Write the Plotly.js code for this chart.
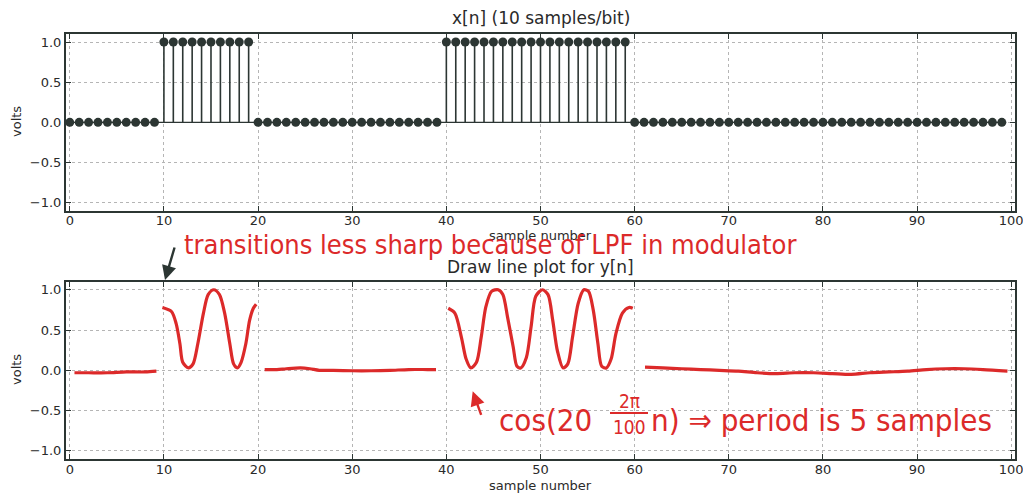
<!DOCTYPE html>
<html><head><meta charset="utf-8">
<script src="https://cdn.plot.ly/plotly-3.0.1.min.js"></script>
<style>html,body{margin:0;padding:0;background:#fff}#plot{width:1023px;height:493px}</style>
</head><body><div id="plot"></div>
<script>
// x[n]: 10 samples per bit, 100 samples
const sampleN = [0,1,2,3,4,5,6,7,8,9,10,11,12,13,14,15,16,17,18,19,20,21,22,23,24,25,26,27,28,29,30,31,32,33,34,35,36,37,38,39,40,41,42,43,44,45,46,47,48,49,50,51,52,53,54,55,56,57,58,59,60,61,62,63,64,65,66,67,68,69,70,71,72,73,74,75,76,77,78,79,80,81,82,83,84,85,86,87,88,89,90,91,92,93,94,95,96,97,98,99];
const xValues = [0,0,0,0,0,0,0,0,0,0, 1,1,1,1,1,1,1,1,1,1, 0,0,0,0,0,0,0,0,0,0, 0,0,0,0,0,0,0,0,0,0, 1,1,1,1,1,1,1,1,1,1, 1,1,1,1,1,1,1,1,1,1, 0,0,0,0,0,0,0,0,0,0, 0,0,0,0,0,0,0,0,0,0, 0,0,0,0,0,0,0,0,0,0, 0,0,0,0,0,0,0,0,0,0];

// hand-drawn y[n], segments separated by null
const yN = [0.5,2,4,6,8,9.2,null,
  9.84,10.8,11.3,11.7,12.0,12.6,13.1,13.6,14.2,14.7,15.3,15.9,16.45,17.0,17.4,17.8,18.2,18.7,19.1,19.5,19.8,null,
  20.7,22,23,24.5,25.5,26.5,28,30,32,34,36,38,38.9,null,
  40.2,40.9,41.6,42.1,42.6,43.2,43.7,44.2,44.8,45.5,46.0,46.5,47.1,47.5,47.9,48.5,49.0,49.5,50.2,50.8,51.3,51.8,52.4,52.9,53.4,54.0,54.6,55.1,55.6,56.1,56.5,57.0,57.5,58.0,58.7,59.4,59.8,null,
  61.1,63,65,67,69,71,73,75,77,79,81,83,85,87,89,91,93,95,97,99.6];
const yValues = [-0.03,-0.03,-0.03,-0.02,-0.02,-0.01,null,
  0.78,0.73,0.58,0.33,0.10,0.03,0.08,0.33,0.71,0.94,1.0,0.94,0.71,0.33,0.08,0.03,0.10,0.33,0.62,0.77,0.82,null,
  0.01,0.01,0.02,0.03,0.02,0.0,0.0,-0.005,-0.005,0.0,0.01,0.01,0.01,null,
  0.77,0.71,0.41,0.14,0.03,0.10,0.41,0.79,0.98,1.0,0.94,0.66,0.29,0.05,0.03,0.16,0.54,0.92,1.0,0.94,0.62,0.24,0.03,0.08,0.41,0.83,1.0,0.98,0.75,0.33,0.05,0.03,0.14,0.45,0.71,0.78,0.77,null,
  0.04,0.03,0.02,0.01,0.0,-0.01,-0.03,-0.04,-0.03,-0.03,-0.04,-0.05,-0.03,-0.02,-0.01,0.01,0.02,0.02,0.01,-0.01];

const yTickVals = [-1.0,-0.5,0.0,0.5,1.0];
const xTickVals = [0,10,20,30,40,50,60,70,80,90,100];

const dark = '#2c3633';
const red = '#dc2a2a';

// stems built from data
const stemX = [], stemY = [];
sampleN.forEach((n,i)=>{ stemX.push(n,n,null); stemY.push(0,xValues[i],null); });

const traces = [
  {x:[sampleN[0], sampleN[sampleN.length-1]], y:[0,0], mode:'lines', line:{color:dark,width:1.2}, xaxis:'x', yaxis:'y', hoverinfo:'skip'},
  {x:stemX, y:stemY, mode:'lines', line:{color:dark,width:1.6}, xaxis:'x', yaxis:'y', hoverinfo:'skip'},
  {x:sampleN, y:xValues, mode:'markers', marker:{color:dark,size:9}, xaxis:'x', yaxis:'y'},
  {x:yN, y:yValues, mode:'lines', line:{color:red,width:3.2,shape:'spline',smoothing:0.8}, connectgaps:false, xaxis:'x2', yaxis:'y2'}
];

const tickFont = {family:'DejaVu Sans', size:13, color:'#2a2a2a'};
function xax(anchor){ return {
  range:[-0.4,100.4], tickvals:xTickVals, ticktext:xTickVals.map(String), anchor:anchor, ticklabeloverflow:'allow',
  ticklabelstandoff:-3,
  showline:true, linecolor:dark, linewidth:2, mirror:'allticks', ticks:'inside', ticklen:5, tickcolor:dark, tickwidth:1,
  showgrid:true, gridcolor:'#b5b5b5', griddash:'dot', gridwidth:1, zeroline:false, tickfont:tickFont
};}
function yax(domain, anchor){ return {
  domain:domain, range:[-1.1,1.1], tickvals:yTickVals, ticktext:yTickVals.map(v=>(v<0?'\u2212':'')+Math.abs(v).toFixed(1)), anchor:anchor,
  showline:true, linecolor:dark, linewidth:2, mirror:'allticks', ticks:'inside', ticklen:5, tickcolor:dark, tickwidth:1,
  showgrid:true, gridcolor:'#b5b5b5', griddash:'dot', gridwidth:1, zeroline:false, tickfont:tickFont
};}

const hand = {family:'Liberation Sans Narrow, DejaVu Sans Condensed, DejaVu Sans', color:red};
const lab = {family:'DejaVu Sans', size:13, color:'#2a2a2a'};
const px = v => (v-66)/949;
const py = v => 1 - v/493;

const layout = {
  width:1023, height:493, margin:{l:66,r:8,t:0,b:0}, showlegend:false,
  paper_bgcolor:'#fff', plot_bgcolor:'#fff',
  xaxis:xax('y'), yaxis:yax([0.5726,0.931],'x'),
  xaxis2:xax('y2'), yaxis2:yax([0.069,0.4286],'x2'),
  annotations:[
    {text:'x[n] (10 samples/bit)', xref:'paper', yref:'paper', x:0.5, y:0.931, yshift:4, xanchor:'center', yanchor:'bottom', showarrow:false, font:{family:'DejaVu Sans', size:17, color:'#2a2a2a'}},
    {text:'Draw line plot for y[n]', xref:'paper', yref:'paper', x:0.5, y:0.4286, yshift:3, xanchor:'center', yanchor:'bottom', showarrow:false, font:{family:'DejaVu Sans', size:17, color:'#2a2a2a'}},
    {text:'volts', xref:'paper', yref:'paper', x:px(16), y:py(122), xanchor:'center', yanchor:'middle', textangle:-90, showarrow:false, font:lab},
    {text:'volts', xref:'paper', yref:'paper', x:px(16), y:py(370), xanchor:'center', yanchor:'middle', textangle:-90, showarrow:false, font:lab},
    {text:'sample number', xref:'paper', yref:'paper', x:0.5, y:py(235), xanchor:'center', yanchor:'middle', showarrow:false, font:lab},
    {text:'sample number', xref:'paper', yref:'paper', x:0.5, y:py(485), xanchor:'center', yanchor:'middle', showarrow:false, font:lab},
    {text:'transitions less sharp because of LPF in modulator', xref:'paper', yref:'paper', x:px(182), y:py(244), xanchor:'left', yanchor:'middle', showarrow:false, font:Object.assign({size:27},hand)},
    {text:'', xref:'paper', yref:'paper', x:px(165), y:py(280), ax:10, ay:-34, showarrow:true, arrowhead:2, arrowsize:1.2, arrowwidth:2.4, arrowcolor:dark},
    {text:'', xref:'x2', yref:'y2', x:42.8, y:-0.26, ax:9, ay:25, showarrow:true, arrowhead:2, arrowsize:1.2, arrowwidth:2.4, arrowcolor:red},
    {text:'cos(20', xref:'paper', yref:'paper', x:px(594), y:py(420), xanchor:'right', yanchor:'middle', showarrow:false, font:Object.assign({size:31},hand)},
    {text:'2π', xref:'paper', yref:'paper', x:px(629), y:py(401), xanchor:'center', yanchor:'middle', showarrow:false, font:Object.assign({size:19},hand)},
    {text:'100', xref:'paper', yref:'paper', x:px(629), y:py(427), xanchor:'center', yanchor:'middle', showarrow:false, font:Object.assign({size:19},hand)},
    {text:'n) ⇒ period is 5 samples', xref:'paper', yref:'paper', x:px(649), y:py(420), xanchor:'left', yanchor:'middle', showarrow:false, font:Object.assign({size:31},hand)}
  ],
  shapes:[
    {type:'line', xref:'paper', yref:'paper', x0:px(610), x1:px(648), y0:py(413), y1:py(413), line:{color:red,width:2}}
  ]
};

Plotly.newPlot('plot', traces, layout, {staticPlot:true});
</script></body></html>
